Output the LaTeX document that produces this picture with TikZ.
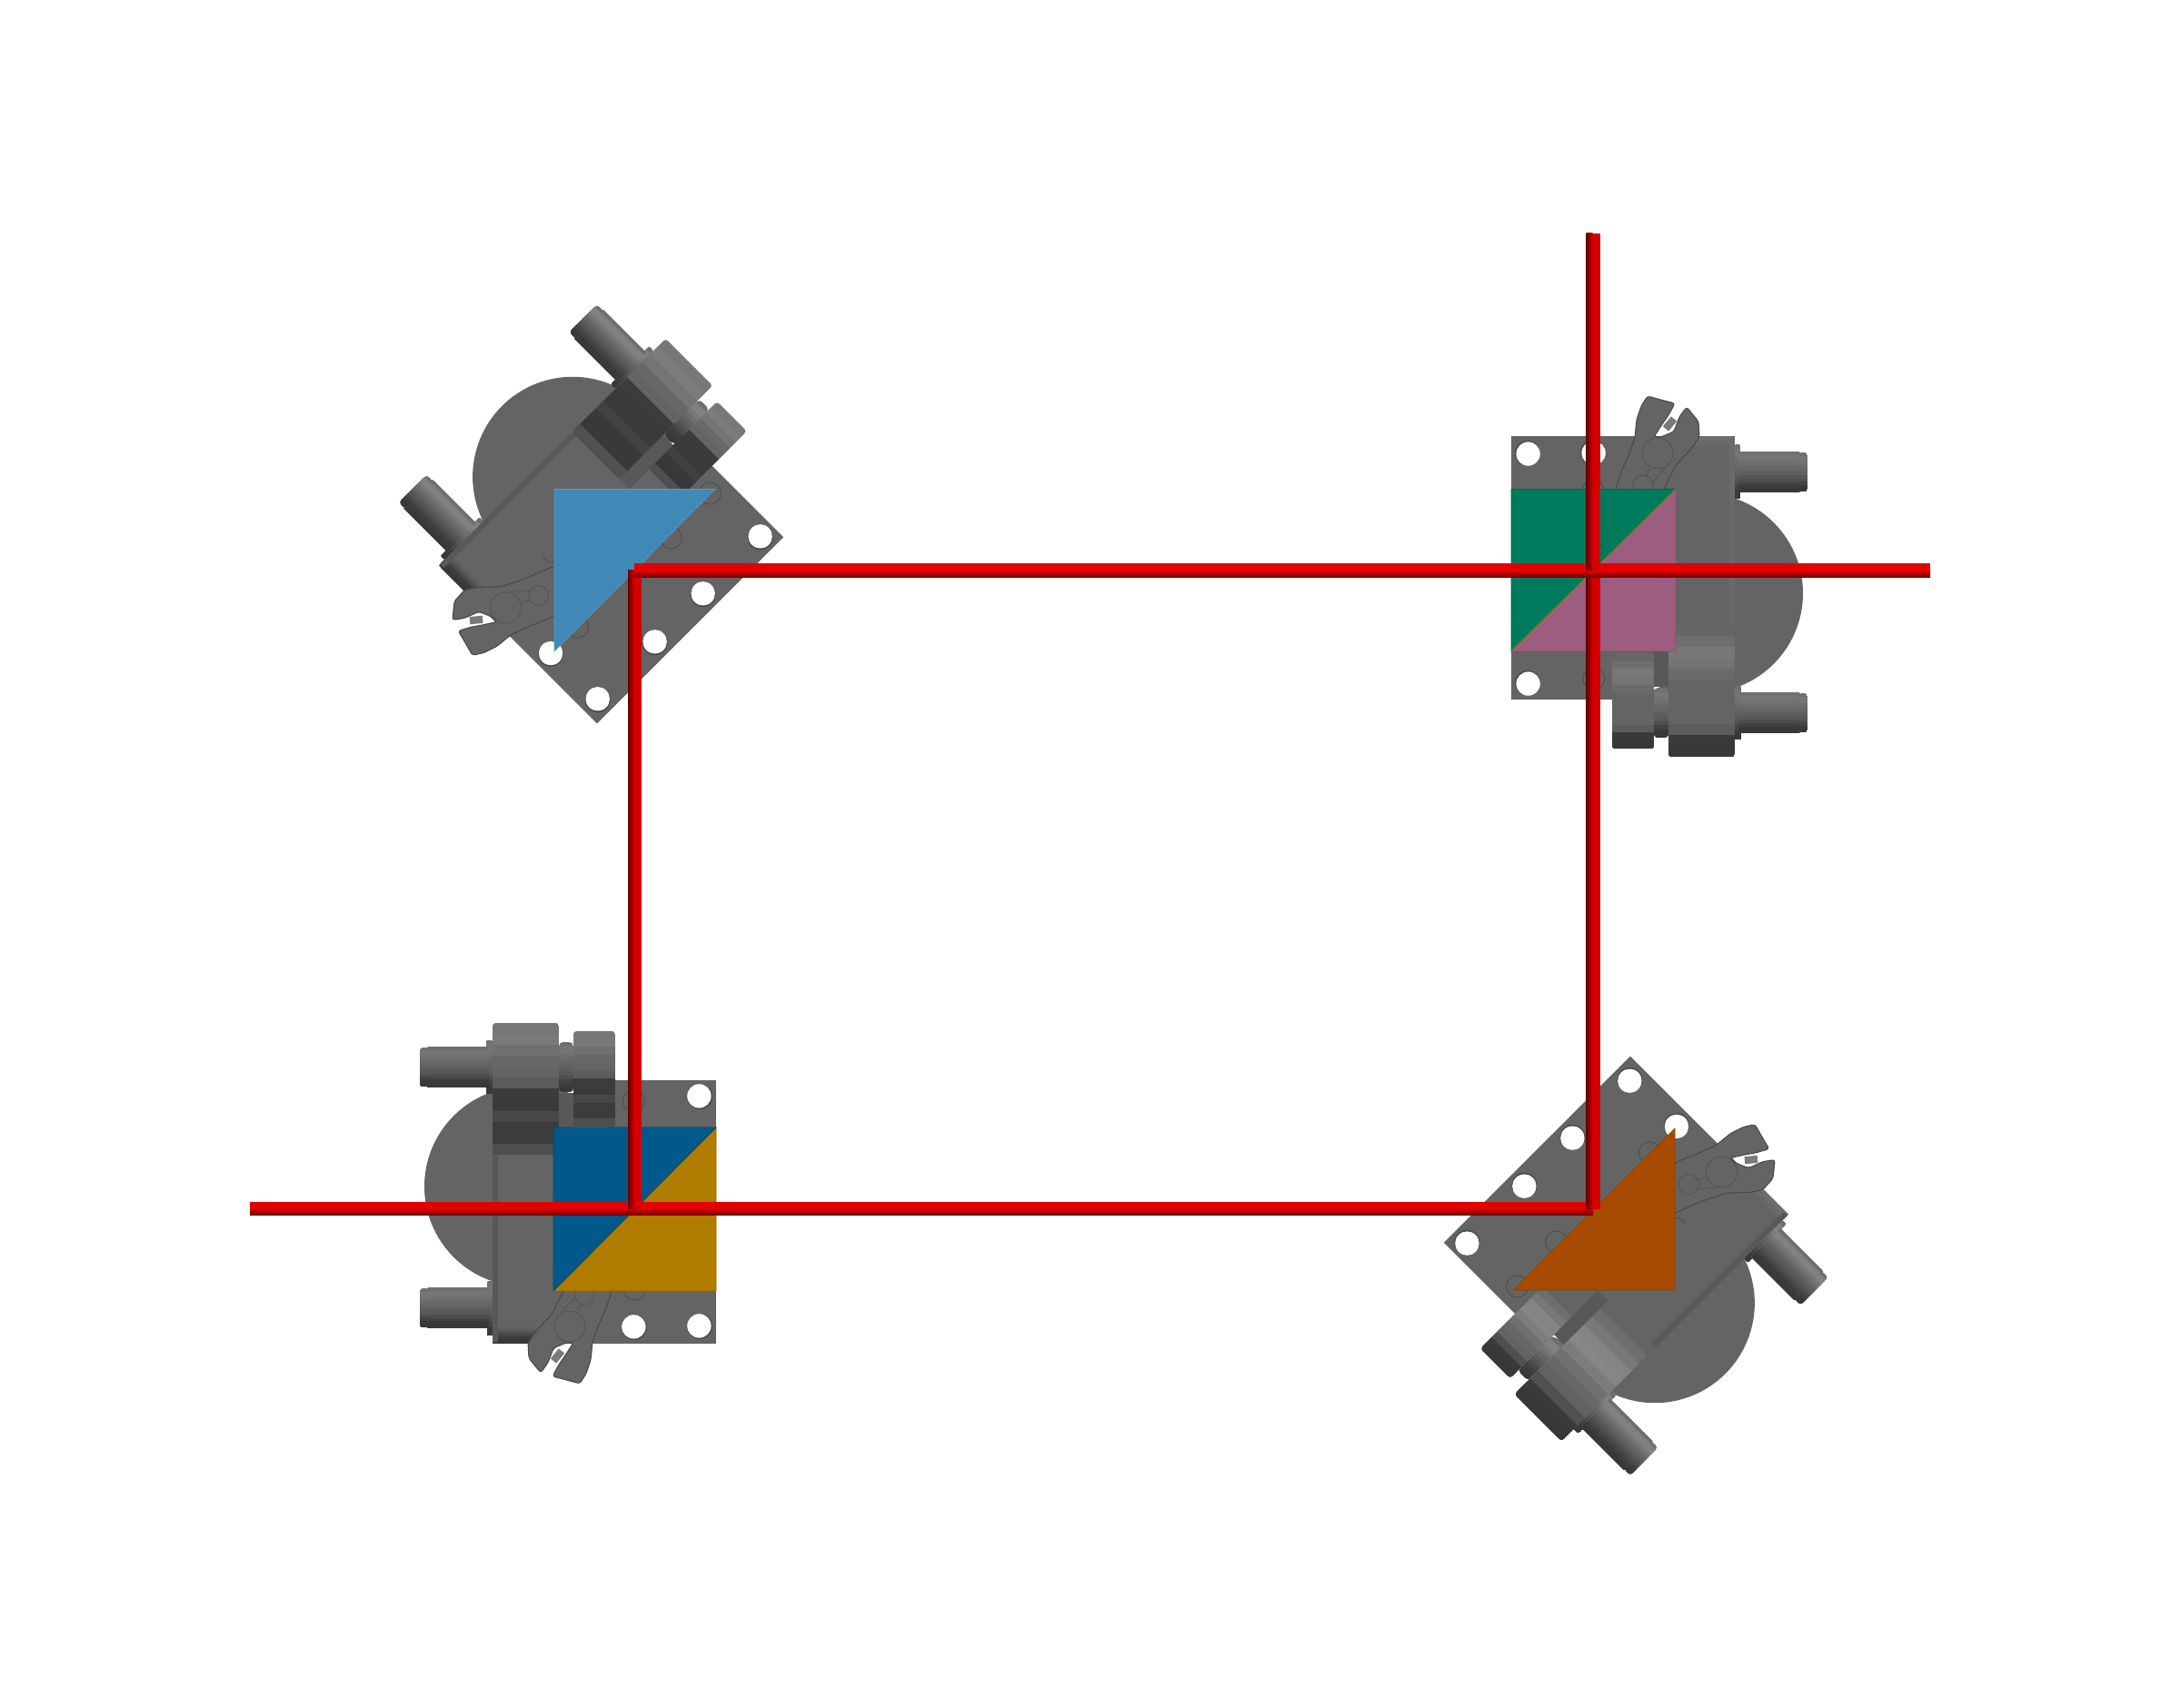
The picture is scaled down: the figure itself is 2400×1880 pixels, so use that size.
\documentclass[tikz,border=0pt]{standalone}
\definecolor{plategray}{RGB}{100,100,100}
\definecolor{edgegray}{RGB}{88,88,88}
\definecolor{edgelight}{RGB}{106,106,106}
\definecolor{linegray}{RGB}{72,72,72}
\definecolor{triLB}{RGB}{65,137,182}
\definecolor{triG}{RGB}{0,122,92}
\definecolor{triP}{RGB}{157,93,128}
\definecolor{triB}{RGB}{0,88,139}
\definecolor{triY}{RGB}{176,124,0}
\definecolor{triO}{RGB}{166,75,0}
\definecolor{redhi}{RGB}{226,0,0}
\definecolor{redlo}{RGB}{104,0,0}
\definecolor{redmid}{RGB}{212,0,0}
\tikzset{
  plate/.style={fill=plategray},
  wrenchbody/.style={fill=plategray,draw=linegray,line width=0.9pt,line join=round,rounded corners=2.5},
  groove/.style={draw=linegray,line width=0.4pt},
  ring/.style={draw=linegray,line width=0.6pt},
  tri/.style={line width=0.5pt,line join=miter},
}
% tube{x1}{x2}{y1}{y2}{palette of 12 greys, screen-top first}{corner}
\newcommand\tube[6]{%
  \begin{scope}
    \clip[rounded corners=#6] (#1,#3) rectangle (#2,#4);
    \foreach \g [count=\i from 0] in #5 {%
      \definecolor{cc}{RGB}{\g,\g,\g}%
      \ifnum\flip>0
        \pgfmathsetmacro\ya{#4-(#4-(#3))*\i/12}%
        \fill[cc] (#1,\ya) rectangle (#2,#3);
      \else
        \pgfmathsetmacro\ya{#3+(#4-(#3))*\i/12}%
        \fill[cc] (#1,\ya) rectangle (#2,#4);
      \fi
    }
  \end{scope}
}
\newcommand\hole[2]{%
  \fill[linegray] (#1,#2) circle (14);
  \fill[white] (#1+0.6,#2-0.6) circle (13.2);
}
% horizontal red tube {x1}{x2}{ytop}{ybottom}, vertical red tube {xleft}{xright}{y1}{y2}
\newcommand\redH[4]{%
  \fill[redhi] (#1,#3) rectangle (#2,#4+8);
  \shade[top color=redhi,bottom color=redlo] (#1,#4+8.2) rectangle (#2,#4);
}
\newcommand\redV[4]{%
  \fill[redmid] (#1+7,#3) rectangle (#2,#4);
  \shade[left color=redlo,right color=redmid] (#1,#3) rectangle (#1+7.2,#4);
}
% servo{cx}{cy}{rot}{flip}{knob palette}{peg palette}
\newcommand\servo[6]{%
\begin{scope}[shift={(#1,#2)},rotate=#3]
  \def\flip{#4}%
  \fill[plate] (121,-25) circle (110);
  \fill[plate] (-90,-142) rectangle (156,148);
  \hole{-72}{129}\hole{-72}{40}\hole{-72}{-35}\hole{-72}{-124}\hole{0}{130}
  \foreach \p in {(1,-119),(-3,-54),(0,88),(76,-53),(79,49)} {\draw[ring] \p circle (12);}
  % white notch between the knobs
  \fill[white] (67,-131) -- (76,-131) -- (67,-124) -- cycle;
  % body
  \fill[plate] (83,-62) rectangle (156,148);
  \ifnum#4>0
    \tube{83}{156}{124}{148}{{110,110,108,106,104,102,100,100,100,100,100,100}}{3}
  \else
    \tube{83}{156}{124}{148}{{100,100,100,96,90,84,76,68,60,58,56,56}}{3}
  \fi
  \ifnum#3=0
    \fill[edgelight] (150,-60) rectangle (156,146);
  \else
    \fill[edgegray] (150,-60) rectangle (156,146);
  \fi
  % collars and pegs
  \tube{156}{163}{-186}{-127}{#6}{1}
  \tube{156}{162}{79}{139}{#6}{1}
  \tube{160}{228}{-179}{-134}{#6}{1}
  \tube{160}{228}{86}{131}{#6}{1}
  \tube{226}{236}{-178}{-135}{#6}{3}
  \tube{226}{236}{87}{130}{#6}{3}
  % tongue and knobs
  \fill[edgegray] (67,-128) rectangle (83,-60);
  \tube{67}{83}{-184}{-129}{#6}{4}
  \tube{21}{67}{-196}{-91}{#5}{3}
  \tube{83}{156}{-205}{-60}{#5}{3}
  % wrench
  \draw[line width=7pt,color=black!52] (89,167) -- (80,156);
  \draw[wrenchbody]
    (66,59) -- (78,90) -- (91,116) -- (108,134) -- (117,147) -- (116,164) -- (103,180)
    -- (95,169) -- (89,153) -- (75,147) -- (67,147) -- (76,161) -- (83,171) -- (90,184)
    -- (78,187) -- (60,192) -- (53,181) -- (48,166) -- (46,146) -- (40,129) -- (31,109)
    -- (25,90) -- (28,60) -- cycle;
  \draw[groove] (71,129) circle (17);
  \draw[groove] (55,94) circle (11);
  \draw[groove] (62,112) -- (59,104) (80,113) -- (65,97);
\end{scope}
}
\begin{document}
\begin{tikzpicture}[x=0.03cm,y=0.03cm]
\useasboundingbox (0,0) rectangle (2400,1880);
\fill[white] (0,0) rectangle (2400,1880);

\servo{698}{1252}{135}{-1}{{120,124,116,104,100,60,58,58,66,58,56,80}}{{110,128,130,120,110,100,92,84,74,64,58,56}}
\servo{1753}{1252}{0}{1}{{102,110,120,116,106,100,100,100,100,92,58,56}}{{112,118,116,110,104,100,94,88,78,66,58,56}}
\servo{698}{549}{180}{-1}{{118,122,112,104,100,92,60,58,72,60,60,78}}{{112,118,116,110,104,100,94,88,78,66,58,56}}
\servo{1753}{549}{-45}{1}{{100,110,120,132,134,124,112,104,98,80,58,56}}{{110,128,130,120,110,100,92,84,74,64,58,56}}

% coloured triangles (screen-aligned)
\filldraw[tri,fill=triLB,draw=triLB!85!white] (610,1341.5) -- (787,1341.5) -- (610,1163) -- cycle;
\filldraw[tri,fill=triG,draw=triG!85!black] (1663,1341.5) -- (1844,1341.5) -- (1663,1163) -- cycle;
\filldraw[tri,fill=triP,draw=triP!85!black] (1844,1341.5) -- (1844,1163) -- (1663,1163) -- cycle;
\draw[line width=0.8pt,color=triY!80!triG] (1663,1163) -- (1844,1341.5);
\filldraw[tri,fill=triB,draw=triB!85!black] (609,639) -- (788,639) -- (609,459) -- cycle;
\filldraw[tri,fill=triY,draw=triY!85!black] (788,639) -- (788,459) -- (609,459) -- cycle;
\draw[line width=0.6pt,color=triB!70!black] (609,459) -- (788,639);
\filldraw[tri,fill=triO,draw=triO!85!black] (1665,460) -- (1843,638) -- (1843,460) -- cycle;

% red frame
\redH{275}{1753}{557}{542}
\redV{691}{706}{549}{1252}
\redV{1745.5}{1760.5}{549}{1252}
\redH{698}{2124}{1259.5}{1244}
\redV{1745.5}{1760.5}{1252}{1623}
\end{tikzpicture}
\end{document}
